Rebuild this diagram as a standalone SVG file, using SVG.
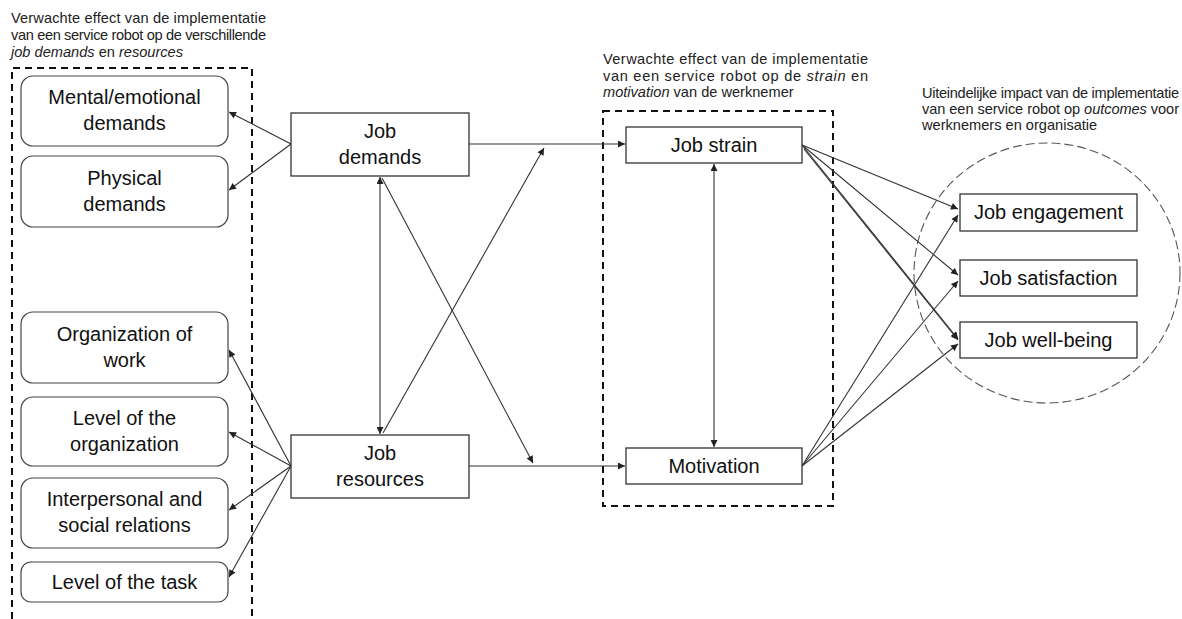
<svg xmlns="http://www.w3.org/2000/svg" width="1182" height="619" viewBox="0 0 1182 619">
<style>
.bg{fill:#ffffff}
.title{font-family:"Liberation Sans",Arial,sans-serif;font-size:14.6px;fill:#222}
.lbl{font-family:"Liberation Sans",Arial,sans-serif;font-size:20px;fill:#111;text-anchor:middle}
.rbox{fill:#fff;stroke:#444;stroke-width:1.2}
.box{fill:#fff;stroke:#333;stroke-width:1.3}
.dash{fill:none;stroke:#111;stroke-width:2;stroke-dasharray:7 5}
.circ{fill:none;stroke:#555;stroke-width:1.1;stroke-dasharray:9 4}
.con line{stroke:#333;stroke-width:1.1;fill:none}
</style>
<defs>
<marker id="ah" viewBox="0 0 10 10" refX="10" refY="5" markerWidth="8" markerHeight="7" orient="auto-start-reverse" markerUnits="userSpaceOnUse">
<path d="M0,0 L10,5 L0,10 z" fill="#222"/>
</marker>
</defs>
<rect class="bg" x="0" y="0" width="1182" height="619"/>

<g id="title-left">
<text class="title" x="11" y="23" textLength="255" lengthAdjust="spacing">Verwachte effect van de implementatie</text>
<text class="title" x="11" y="40" textLength="255" lengthAdjust="spacing">van een service robot op de verschillende</text>
<text class="title" x="11" y="57"><tspan font-style="italic">job demands</tspan> en <tspan font-style="italic">resources</tspan></text>
</g>
<g id="title-mid">
<text class="title" x="603" y="64" textLength="265" lengthAdjust="spacing">Verwachte effect van de implementatie</text>
<text class="title" x="603" y="81" textLength="265" lengthAdjust="spacing">van een service robot op de <tspan font-style="italic">strain</tspan> en</text>
<text class="title" x="603" y="97"><tspan font-style="italic">motivation</tspan> van de werknemer</text>
</g>
<g id="title-right">
<text class="title" x="922" y="98" textLength="257" lengthAdjust="spacing">Uiteindelijke impact van de implementatie</text>
<text class="title" x="922" y="114" textLength="257" lengthAdjust="spacing">van een service robot op <tspan font-style="italic">outcomes</tspan> voor</text>
<text class="title" x="922" y="130">werknemers en organisatie</text>
</g>

<g id="group-left-frame">
<path class="dash" d="M12,619 L12,68 L252,68 L252,619"/>
</g>
<g id="group-mid-frame">
<rect class="dash" x="603" y="111" width="230" height="395"/>
</g>
<g id="group-outcomes-frame">
<ellipse class="circ" cx="1047" cy="273" rx="133" ry="130"/>
</g>

<g id="connectors" class="con">
<line x1="291" y1="144" x2="229" y2="112" marker-end="url(#ah)"/>
<line x1="291" y1="144" x2="229" y2="190" marker-end="url(#ah)"/>
<line x1="291" y1="466" x2="229" y2="350" marker-end="url(#ah)"/>
<line x1="291" y1="466" x2="229" y2="432" marker-end="url(#ah)"/>
<line x1="291" y1="466" x2="229" y2="510" marker-end="url(#ah)"/>
<line x1="291" y1="466" x2="229" y2="577" marker-end="url(#ah)"/>
<line x1="469" y1="144" x2="625" y2="144" marker-end="url(#ah)"/>
<line x1="469" y1="466" x2="625" y2="466" marker-end="url(#ah)"/>
<line x1="380" y1="177" x2="380" y2="434" marker-start="url(#ah)" marker-end="url(#ah)"/>
<line x1="382" y1="178" x2="533" y2="463" marker-end="url(#ah)"/>
<line x1="383" y1="433" x2="544" y2="148" marker-end="url(#ah)"/>
<line x1="714" y1="164" x2="714" y2="447" marker-start="url(#ah)" marker-end="url(#ah)"/>
<line x1="802" y1="145" x2="958" y2="209" marker-end="url(#ah)"/>
<line x1="802" y1="145" x2="958" y2="275" marker-end="url(#ah)"/>
<line x1="802" y1="145" x2="958" y2="339" marker-end="url(#ah)"/>
<line x1="804" y1="149" x2="958" y2="340" marker-end="url(#ah)"/>
<line x1="802" y1="466" x2="958" y2="215" marker-end="url(#ah)"/>
<line x1="802" y1="466" x2="958" y2="281" marker-end="url(#ah)"/>
<line x1="802" y1="466" x2="958" y2="344" marker-end="url(#ah)"/>
</g>

<g id="mental-emotional-demands">
<rect class="rbox" x="21" y="76" width="207" height="70" rx="12"/>
<text class="lbl" x="124.5" y="104">Mental/emotional</text>
<text class="lbl" x="124.5" y="130">demands</text>
</g>
<g id="physical-demands">
<rect class="rbox" x="21" y="156" width="207" height="71" rx="12"/>
<text class="lbl" x="124.5" y="185">Physical</text>
<text class="lbl" x="124.5" y="211">demands</text>
</g>
<g id="organization-of-work">
<rect class="rbox" x="21" y="312" width="207" height="71" rx="12"/>
<text class="lbl" x="124.5" y="341">Organization of</text>
<text class="lbl" x="124.5" y="367">work</text>
</g>
<g id="level-of-the-organization">
<rect class="rbox" x="21" y="397" width="207" height="69" rx="12"/>
<text class="lbl" x="124.5" y="425">Level of the</text>
<text class="lbl" x="124.5" y="451">organization</text>
</g>
<g id="interpersonal-social-relations">
<rect class="rbox" x="21" y="478" width="207" height="70" rx="12"/>
<text class="lbl" x="124.5" y="506">Interpersonal and</text>
<text class="lbl" x="124.5" y="532">social relations</text>
</g>
<g id="level-of-the-task">
<rect class="rbox" x="21" y="562" width="207" height="40" rx="10"/>
<text class="lbl" x="124.5" y="589">Level of the task</text>
</g>

<g id="job-demands">
<rect class="box" x="291" y="113" width="178" height="63"/>
<text class="lbl" x="380" y="138">Job</text>
<text class="lbl" x="380" y="164">demands</text>
</g>
<g id="job-resources">
<rect class="box" x="291" y="435" width="178" height="63"/>
<text class="lbl" x="380" y="460">Job</text>
<text class="lbl" x="380" y="486">resources</text>
</g>

<g id="job-strain">
<rect class="box" x="626" y="127" width="176" height="36"/>
<text class="lbl" x="714" y="152">Job strain</text>
</g>
<g id="motivation">
<rect class="box" x="626" y="448" width="176" height="36"/>
<text class="lbl" x="714" y="473">Motivation</text>
</g>

<g id="job-engagement">
<rect class="box" x="960" y="194" width="177" height="37"/>
<text class="lbl" x="1048.5" y="219">Job engagement</text>
</g>
<g id="job-satisfaction">
<rect class="box" x="960" y="260" width="177" height="36"/>
<text class="lbl" x="1048.5" y="285">Job satisfaction</text>
</g>
<g id="job-well-being">
<rect class="box" x="960" y="322" width="177" height="36"/>
<text class="lbl" x="1048.5" y="347">Job well-being</text>
</g>
</svg>
